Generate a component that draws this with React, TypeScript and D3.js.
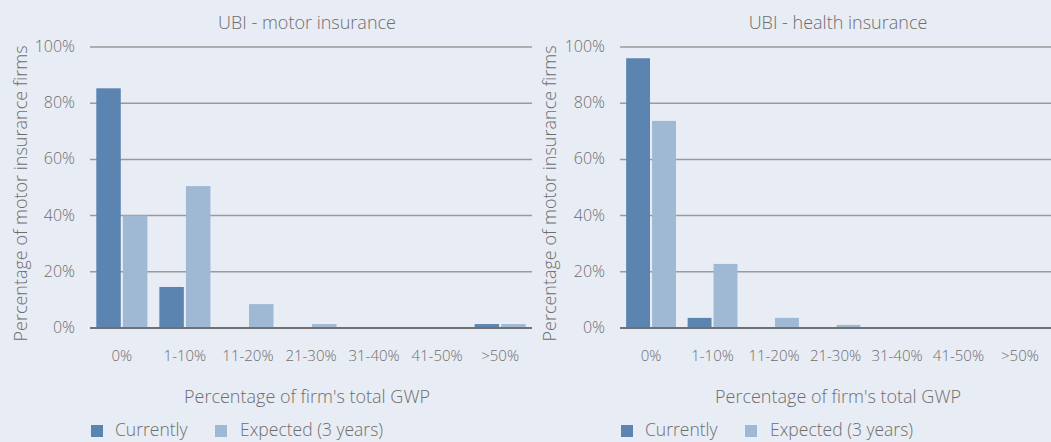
import React from 'react'
import * as d3 from 'd3'

const categories = ['0%', '1-10%', '11-20%', '21-30%', '31-40%', '41-50%', '>50%']
const seriesNames = ['Currently', 'Expected (3 years)']
const motorCurrently = [85.3, 14.6, 0, 0, 0, 0, 1.4]
const motorExpected = [40, 50.5, 8.5, 1.4, 0, 0, 1.4]
const healthCurrently = [96, 3.6, 0, 0, 0, 0, 0]
const healthExpected = [73.7, 22.8, 3.6, 1.1, 0, 0, 0]
const yTicks = [0, 20, 40, 60, 80, 100]
const panelTitles = ['UBI - motor insurance', 'UBI - health insurance']
const yAxisTitle = 'Percentage of motor insurance firms'
const xAxisTitle = "Percentage of firm's total GWP"

const colors = ['#5b85b0', '#9fb8d4']
const textColor = '#6e6e6e'
const font = '"Open Sans", sans-serif'

function Panel ({ x0, x1, title, current, expected, titleX, yTitleX }) {
  const top = 47
  const bottom = 328
  const yScale = d3.scaleLinear().domain([0, 100]).range([bottom, top])
  const xScale = d3.scaleBand().domain(categories).range([x0, x1]).paddingInner(0.19).paddingOuter(0.1)
  const inner = d3.scaleBand().domain(seriesNames).range([0, xScale.bandwidth()]).paddingInner(0.08)
  const series = [current, expected]
  return <g>
    <text x={titleX} y={29} textAnchor='middle' fontSize={18} fill={textColor}>{title}</text>
    {
      yTicks.map((v, i) => {
        return <g key={i}>
          {v > 0 && <line x1={x0} x2={x1} y1={yScale(v)} y2={yScale(v)} stroke='#9a9a9a' strokeWidth={1.5} />}
          <text x={x0 - 15} y={yScale(v)} dy='5' textAnchor='end' fontSize={16} fill={textColor}>{v}%</text>
        </g>
      })
    }
    {
      series.map((vals, s) => vals.map((v, i) => {
        return <rect key={s + '-' + i} x={xScale(categories[i]) + inner(seriesNames[s])} width={inner.bandwidth()}
          y={yScale(v)} height={yScale(0) - yScale(v)} fill={colors[s]} />
      }))
    }
    <line x1={x0} x2={x1} y1={yScale(0)} y2={yScale(0)} stroke='#707070' strokeWidth={2} />
    {
      categories.map((c, i) => {
        return <text key={i} x={xScale(c) + xScale.bandwidth() / 2} y={361} textAnchor='middle' fontSize={15} fill={textColor}>{c}</text>
      })
    }
    <text transform={`translate(${yTitleX},${(top + bottom + 12) / 2}) rotate(-90)`} textAnchor='middle' fontSize={18} fill={textColor}>{yAxisTitle}</text>
    <text x={titleX} y={403} textAnchor='middle' fontSize={18} fill={textColor}>{xAxisTitle}</text>
    <g>
      <rect x={x0 + 1} y={425} width={12} height={12} fill={colors[0]} />
      <text x={x0 + 25} y={436} fontSize={17.5} fill={textColor}>{seriesNames[0]}</text>
      <rect x={x0 + 125} y={425} width={12} height={12} fill={colors[1]} />
      <text x={x0 + 150} y={436} fontSize={17.5} fill={textColor}>{seriesNames[1]}</text>
    </g>
  </g>
}

export default function App () {
  return <svg width={1051} height={442} style={{ position: 'absolute', left: 0, top: 0, background: '#e8ecf4' }}
    fontFamily={font} fontWeight={300}>
    <rect x={0} y={0} width={1051} height={442} fill='#e8ecf4' />
    <Panel x0={90} x1={532} title={panelTitles[0]} current={motorCurrently} expected={motorExpected} titleX={307} yTitleX={27} />
    <Panel x0={620} x1={1051} title={panelTitles[1]} current={healthCurrently} expected={healthExpected} titleX={838} yTitleX={556} />
  </svg>
}
